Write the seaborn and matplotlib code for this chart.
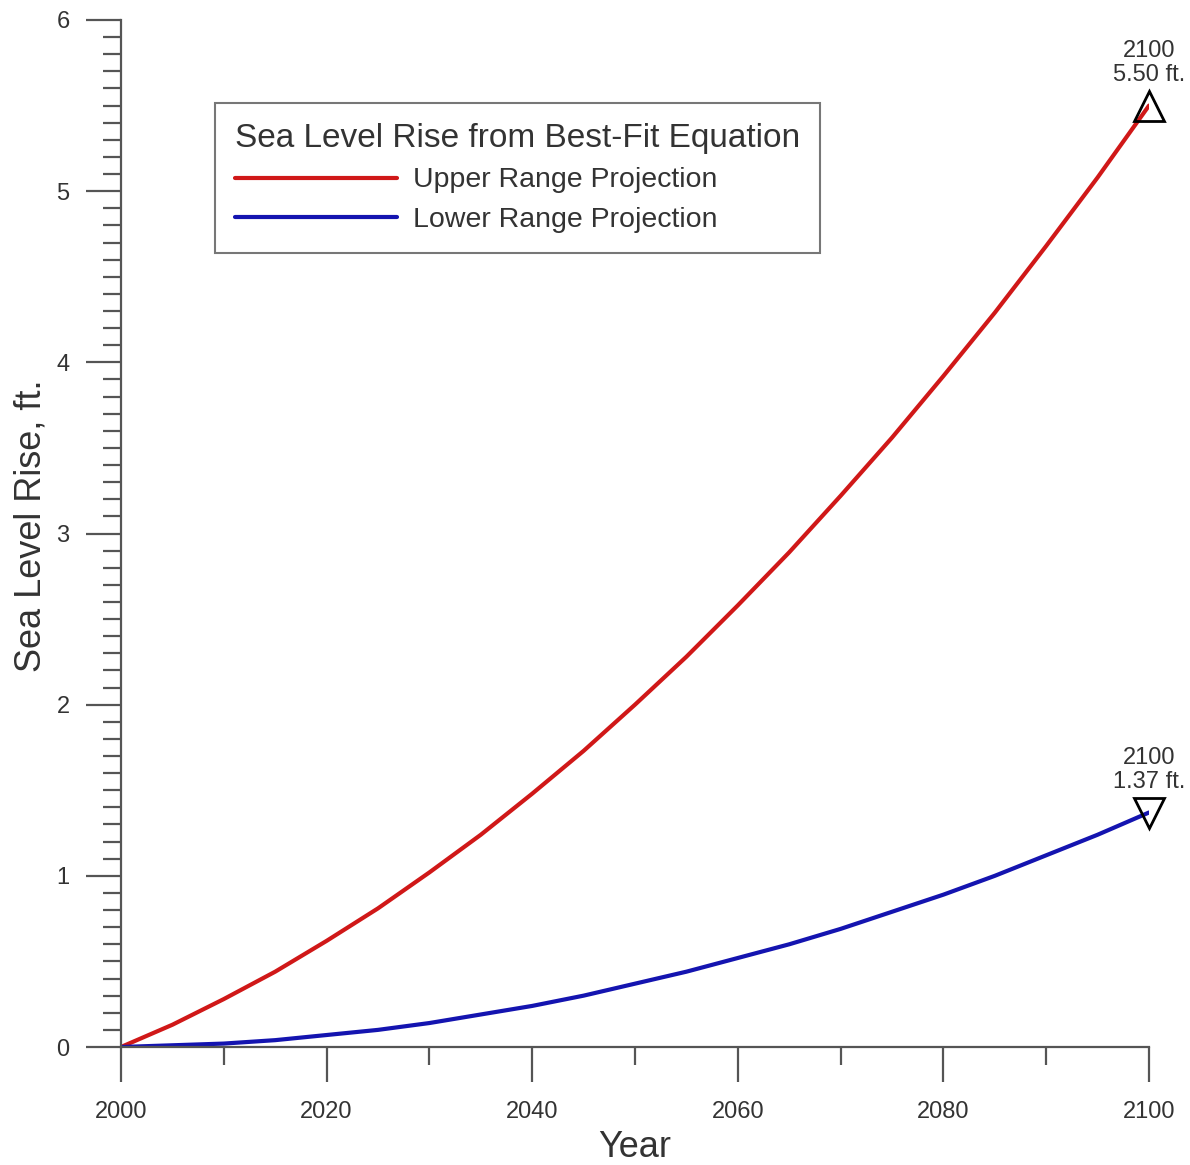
import numpy as np
import pandas as pd
import matplotlib
matplotlib.use("Agg")
import matplotlib.pyplot as plt
from matplotlib.ticker import MultipleLocator
from matplotlib.lines import Line2D
import seaborn as sns

# Projected sea level rise (ft) relative to 2000, sampled every 5 years
years = [2000, 2005, 2010, 2015, 2020, 2025, 2030, 2035, 2040, 2045, 2050,
         2055, 2060, 2065, 2070, 2075, 2080, 2085, 2090, 2095, 2100]
upper_ft = [0.00, 0.13, 0.28, 0.44, 0.62, 0.81, 1.02, 1.24, 1.48, 1.73, 2.00,
            2.28, 2.58, 2.89, 3.22, 3.56, 3.92, 4.29, 4.68, 5.08, 5.50]
lower_ft = [0.00, 0.01, 0.02, 0.04, 0.07, 0.10, 0.14, 0.19, 0.24, 0.30, 0.37,
            0.44, 0.52, 0.60, 0.69, 0.79, 0.89, 1.00, 1.12, 1.24, 1.37]
series_names = ["Upper Range Projection", "Lower Range Projection"]
legend_title = "Sea Level Rise from Best-Fit Equation"

df = pd.concat([
    pd.DataFrame({"Year": years, "Rise": upper_ft, "Series": series_names[0]}),
    pd.DataFrame({"Year": years, "Rise": lower_ft, "Series": series_names[1]}),
])

sns.set_theme(style="white")
plt.rcParams["font.family"] = ["Liberation Sans", "DejaVu Sans"]

text_c = "#333333"
axis_c = "#555555"

fig = plt.figure(figsize=(11.9, 11.65), dpi=100)
ax = fig.add_axes([121 / 1190, 1 - 1047 / 1165, 1028 / 1190, 1027 / 1165])

palette = {series_names[0]: "#d01818", series_names[1]: "#1414b0"}
sns.lineplot(data=df, x="Year", y="Rise", hue="Series", palette=palette,
             linewidth=3.0, ax=ax, legend=False, sort=True)

ax.set_xlim(2000, 2100)
ax.set_ylim(0, 6)

# end-of-century markers with labels
ends = [(years[-1], upper_ft[-1], "^"), (years[-1], lower_ft[-1], "v")]
for x, y, m in ends:
    ax.plot([x], [y], marker=m, markersize=22, markerfacecolor="none",
            markeredgecolor="black", markeredgewidth=2.0, linestyle="none",
            clip_on=False, zorder=5)
    ax.annotate(f"{x}\n{y:.2f} ft.", xy=(x, y), xytext=(0, 14),
                textcoords="offset points", ha="center", va="bottom",
                fontsize=17, color=text_c, linespacing=1.1,
                annotation_clip=False)

for side in ["top", "right"]:
    ax.spines[side].set_visible(False)
for side in ["left", "bottom"]:
    ax.spines[side].set_color(axis_c)
    ax.spines[side].set_linewidth(1.6)

ax.xaxis.set_major_locator(MultipleLocator(20))
ax.xaxis.set_minor_locator(MultipleLocator(10))
ax.yaxis.set_major_locator(MultipleLocator(1))
ax.yaxis.set_minor_locator(MultipleLocator(0.1))
ax.tick_params(axis="both", which="major", direction="out", length=25,
               width=1.6, color=axis_c, labelsize=17, labelcolor=text_c)
ax.tick_params(axis="both", which="minor", direction="out", length=13,
               width=1.6, color=axis_c)
ax.tick_params(axis="x", which="major", pad=14, bottom=True)
ax.tick_params(axis="x", which="minor", bottom=True)
ax.tick_params(axis="y", which="major", pad=12, left=True)
ax.tick_params(axis="y", which="minor", left=True)

ax.set_xlabel("Year", fontsize=26, color=text_c, labelpad=5)
ax.set_ylabel("Sea Level Rise, ft.", fontsize=26, color=text_c, labelpad=6,
              y=0.508)
ax.grid(False)

handles = [Line2D([], [], color=palette[n], linewidth=3.0) for n in series_names]
leg = ax.legend(handles, series_names, title=legend_title, loc="upper left",
                bbox_to_anchor=(0.0914, 0.919), borderaxespad=0,
                fontsize=20.5, title_fontsize=24, frameon=True, fancybox=False,
                handlelength=5.7, handletextpad=0.55, labelspacing=0.47,
                borderpad=0.7, alignment="left")
leg.get_frame().set_edgecolor(axis_c)
leg.get_frame().set_linewidth(1.5)
for t in leg.get_texts():
    t.set_color(text_c)
leg.get_title().set_color(text_c)

fig.savefig("out.png", dpi=100, facecolor="white")
